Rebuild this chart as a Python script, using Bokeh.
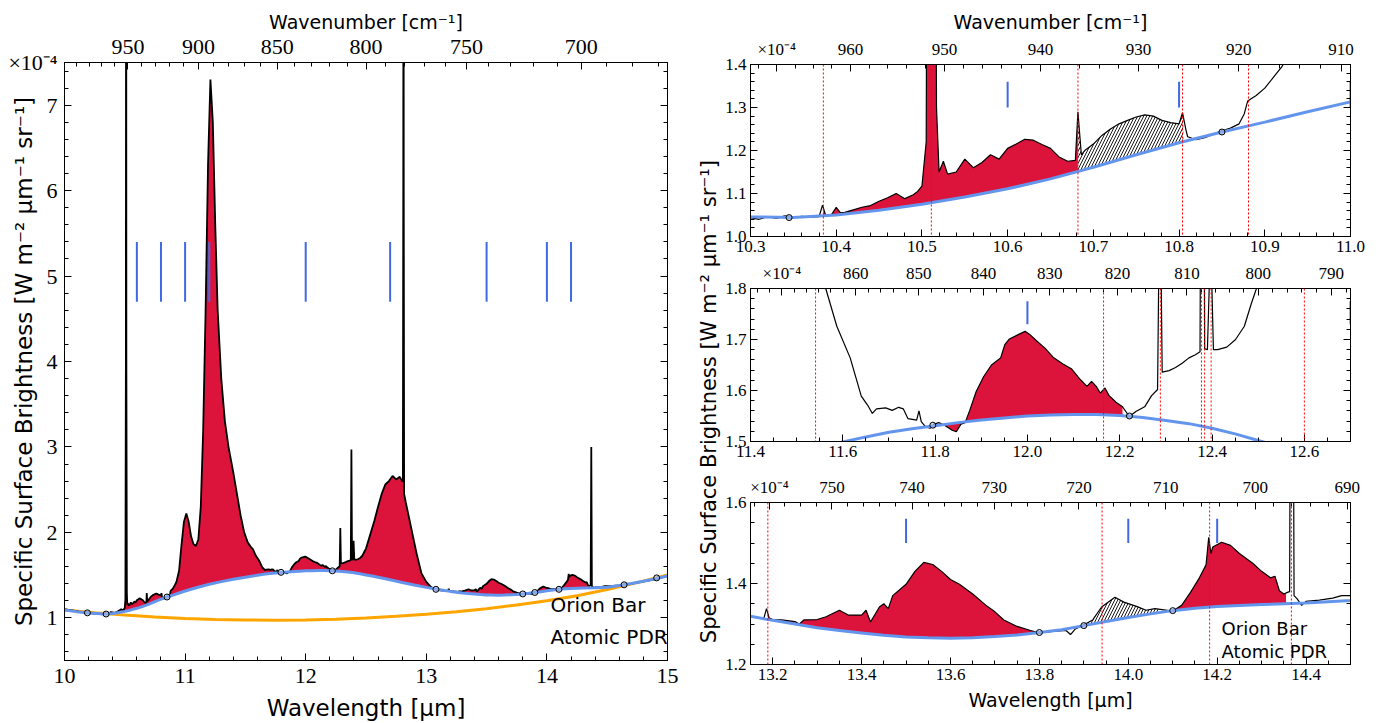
import numpy as np
from bokeh.plotting import figure
from bokeh.models import LinearAxis, FixedTicker, CustomJSTickFormatter, Span, Label, Range1d
from bokeh.layouts import row, column
from bokeh.embed import file_html
from bokeh.resources import INLINE

# ---------------- data (surface brightness in units of 1e-4 W m^-2 um^-1 sr^-1) ----------------
WAVE = [
    10.00, 10.03, 10.06, 10.09, 10.12, 10.15, 10.18, 10.21, 10.24, 10.27,
    10.30, 10.31, 10.32, 10.33, 10.34, 10.35, 10.36, 10.37, 10.38, 10.384,
    10.388, 10.395, 10.40, 10.405, 10.41, 10.42, 10.43, 10.44, 10.45, 10.46,
    10.47, 10.48, 10.49, 10.495, 10.50, 10.505, 10.509, 10.511, 10.513, 10.517,
    10.52, 10.525, 10.53, 10.54, 10.55, 10.56, 10.57, 10.58, 10.59, 10.60,
    10.61, 10.62, 10.63, 10.64, 10.65, 10.66, 10.67, 10.679, 10.682, 10.686,
    10.69, 10.70, 10.71, 10.72, 10.73, 10.74, 10.75, 10.76, 10.77, 10.78,
    10.79, 10.80, 10.804, 10.808, 10.81, 10.82, 10.83, 10.84, 10.85, 10.86,
    10.87, 10.876, 10.88, 10.89, 10.90, 10.91, 10.92, 10.93, 10.95, 10.97,
    10.99, 11.01, 11.03, 11.05, 11.07, 11.09, 11.11, 11.13, 11.15, 11.17,
    11.19, 11.21, 11.23, 11.25, 11.27, 11.30, 11.33, 11.36, 11.40, 11.43,
    11.46, 11.49, 11.52, 11.545, 11.563, 11.587, 11.616, 11.640, 11.654, 11.664,
    11.673, 11.693, 11.707, 11.721, 11.731, 11.741, 11.760, 11.765, 11.770, 11.779,
    11.789, 11.798, 11.808, 11.822, 11.837, 11.846, 11.856, 11.865, 11.875, 11.889,
    11.905, 11.922, 11.942, 11.951, 11.961, 11.981, 11.995, 12.005, 12.019, 12.038,
    12.057, 12.077, 12.096, 12.115, 12.129, 12.139, 12.149, 12.158, 12.168, 12.177,
    12.192, 12.206, 12.221, 12.235, 12.254, 12.269, 12.282, 12.287, 12.292, 12.307,
    12.321, 12.336, 12.350, 12.364, 12.374, 12.379, 12.384, 12.390, 12.397, 12.403,
    12.412, 12.432, 12.451, 12.470, 12.485, 12.50, 12.53, 12.57, 12.60, 12.63,
    12.66, 12.69, 12.72, 12.75, 12.78, 12.80, 12.806, 12.809, 12.811, 12.813,
    12.816, 12.83, 12.86, 12.89, 12.92, 12.96, 13.00, 13.04, 13.08, 13.12,
    13.15, 13.18, 13.186, 13.192, 13.20, 13.22, 13.25, 13.26, 13.27, 13.30,
    13.32, 13.35, 13.37, 13.40, 13.41, 13.42, 13.44, 13.45, 13.46, 13.47,
    13.50, 13.52, 13.54, 13.56, 13.58, 13.60, 13.62, 13.65, 13.68, 13.70,
    13.72, 13.75, 13.78, 13.80, 13.83, 13.86, 13.87, 13.88, 13.90, 13.92,
    13.94, 13.95, 13.97, 13.99, 14.02, 14.04, 14.06, 14.08, 14.10, 14.12,
    14.14, 14.16, 14.175, 14.181, 14.186, 14.19, 14.21, 14.23, 14.25, 14.28,
    14.30, 14.32, 14.33, 14.34, 14.35, 14.358, 14.363, 14.368, 14.373, 14.38,
    14.39, 14.40, 14.43, 14.46, 14.48, 14.50, 14.55, 14.60, 14.65, 14.70,
    14.75, 14.80, 14.85, 14.90, 14.95, 15.00,
]
FLUX = [
    1.100, 1.092, 1.086, 1.080, 1.072, 1.066, 1.062, 1.056, 1.052, 1.048,
    1.044, 1.040, 1.046, 1.042, 1.048, 1.044, 1.047, 1.045, 1.046, 1.073,
    1.047, 1.052, 1.068, 1.055, 1.056, 1.062, 1.068, 1.072, 1.082, 1.090,
    1.100, 1.088, 1.097, 1.105, 1.117, 1.220, 4.000, 12.00, 4.000, 1.300,
    1.150, 1.175, 1.145, 1.150, 1.180, 1.160, 1.172, 1.190, 1.180, 1.205,
    1.215, 1.226, 1.224, 1.214, 1.205, 1.185, 1.175, 1.177, 1.290, 1.190,
    1.200, 1.215, 1.235, 1.250, 1.262, 1.270, 1.278, 1.283, 1.280, 1.270,
    1.265, 1.262, 1.288, 1.248, 1.232, 1.225, 1.230, 1.238, 1.246, 1.252,
    1.262, 1.285, 1.315, 1.328, 1.345, 1.370, 1.395, 1.430, 1.550, 1.850,
    2.120, 2.220, 2.120, 1.950, 1.860, 1.840, 1.920, 2.300, 3.200, 4.600,
    6.300, 7.300, 6.800, 5.600, 4.600, 3.800, 3.300, 3.000, 2.700, 2.450,
    2.200, 2.000, 1.880, 1.830, 1.800, 1.726, 1.664, 1.589, 1.571, 1.555,
    1.564, 1.566, 1.561, 1.567, 1.564, 1.545, 1.542, 1.560, 1.539, 1.529,
    1.526, 1.534, 1.537, 1.531, 1.522, 1.519, 1.534, 1.537, 1.561, 1.598,
    1.627, 1.650, 1.664, 1.690, 1.701, 1.710, 1.716, 1.710, 1.698, 1.683,
    1.664, 1.652, 1.642, 1.621, 1.608, 1.618, 1.608, 1.595, 1.605, 1.590,
    1.577, 1.568, 1.549, 1.559, 1.568, 1.590, 1.602, 2.050, 1.636, 1.639,
    1.645, 1.654, 1.664, 1.670, 1.676, 2.970, 1.682, 1.680, 1.900, 1.680,
    1.680, 1.685, 1.700, 1.726, 1.770, 1.810, 1.950, 2.140, 2.300, 2.450,
    2.560, 2.600, 2.660, 2.620, 2.650, 2.600, 2.600, 6.000, 12.00, 6.000,
    2.450, 2.350, 2.150, 1.950, 1.750, 1.520, 1.420, 1.360, 1.330, 1.322,
    1.318, 1.314, 1.338, 1.315, 1.311, 1.310, 1.306, 1.300, 1.310, 1.311,
    1.318, 1.334, 1.322, 1.322, 1.334, 1.305, 1.342, 1.350, 1.338, 1.370,
    1.398, 1.430, 1.452, 1.447, 1.430, 1.410, 1.398, 1.374, 1.346, 1.330,
    1.310, 1.294, 1.284, 1.278, 1.282, 1.284, 1.274, 1.287, 1.298, 1.310,
    1.342, 1.350, 1.366, 1.354, 1.343, 1.334, 1.338, 1.335, 1.332, 1.346,
    1.378, 1.414, 1.446, 1.514, 1.474, 1.490, 1.502, 1.494, 1.474, 1.450,
    1.430, 1.414, 1.418, 1.382, 1.374, 1.378, 1.380, 3.000, 1.370, 1.362,
    1.346, 1.356, 1.359, 1.364, 1.370, 1.370, 1.372, 1.378, 1.390, 1.400,
    1.412, 1.425, 1.437, 1.452, 1.470, 1.490,
]

# spline continuum (blue)
BASE_WAVE = [
    10.0, 10.1, 10.2, 10.3, 10.35, 10.4, 10.45, 10.5, 10.55, 10.6,
    10.65, 10.7, 10.75, 10.8, 10.85, 10.9, 10.95, 11.0, 11.1, 11.2,
    11.3, 11.4, 11.5, 11.55, 11.6, 11.65, 11.7, 11.75, 11.8, 11.85,
    11.9, 11.95, 12.0, 12.05, 12.1, 12.15, 12.2, 12.25, 12.3, 12.35,
    12.4, 12.45, 12.5, 12.55, 12.6, 12.7, 12.8, 12.9, 13.0, 13.1,
    13.15, 13.2, 13.25, 13.3, 13.35, 13.4, 13.45, 13.5, 13.55, 13.6,
    13.65, 13.7, 13.75, 13.8, 13.85, 13.9, 13.95, 14.0, 14.05, 14.1,
    14.15, 14.2, 14.3, 14.4, 14.5, 14.6, 14.7, 14.8, 14.9, 15.0,
]
BASE_FLUX = [
    1.090, 1.072, 1.056, 1.046, 1.044, 1.050, 1.061, 1.075, 1.092, 1.111,
    1.134, 1.161, 1.190, 1.218, 1.243, 1.266, 1.290, 1.313, 1.355, 1.392,
    1.423, 1.450, 1.475, 1.487, 1.499, 1.509, 1.518, 1.525, 1.531, 1.537,
    1.542, 1.546, 1.550, 1.552, 1.553, 1.553, 1.551, 1.547, 1.541, 1.535,
    1.526, 1.515, 1.502, 1.489, 1.475, 1.445, 1.414, 1.384, 1.356, 1.332,
    1.319, 1.309, 1.300, 1.291, 1.284, 1.278, 1.272, 1.268, 1.266, 1.265,
    1.266, 1.269, 1.273, 1.279, 1.286, 1.296, 1.306, 1.316, 1.325, 1.333,
    1.339, 1.343, 1.348, 1.352, 1.358, 1.378, 1.402, 1.428, 1.458, 1.490,
]

# continuum anchor points (circles)
ANCHOR_WAVE = [10.19, 10.345, 10.85, 11.795, 12.221, 13.08, 13.80, 13.90, 14.10, 14.64, 14.91]
ANCHOR_FLUX = [1.058, 1.044, 1.243, 1.532, 1.550, 1.333, 1.279, 1.296, 1.333, 1.386, 1.467]

# second continuum (orange, overview only)
ORANGE_WAVE = [10.0, 10.25, 10.5, 10.75, 11.0, 11.25, 11.5, 11.75, 12.0, 12.25, 12.5,
               12.75, 13.0, 13.25, 13.5, 13.75, 14.0, 14.25, 14.5, 14.75, 15.0]
ORANGE_FLUX = [1.090, 1.060, 1.032, 1.010, 0.993, 0.981, 0.974, 0.972, 0.975, 0.984, 0.998,
               1.017, 1.041, 1.071, 1.107, 1.150, 1.200, 1.258, 1.330, 1.412, 1.500]

# band positions (blue markers)
BAND_WAVE = [10.6, 10.8, 11.0, 11.2, 12.0, 12.7, 13.5, 14.0, 14.2]

# line positions (red dotted)
LINES_TOP = [10.385, 10.511, 10.682, 10.804, 10.881]
LINES_MID = [11.541, 12.165, 12.288, 12.377, 12.384, 12.398, 12.600]
LINES_BOT = [13.189, 13.941, 14.183, 14.367]

# integration windows
RED_WINDOWS = [(10.385, 10.682), (11.822, 12.206), (13.189, 13.80), (14.11, 14.355)]
HATCH_WINDOWS = [(10.682, 10.805), (13.905, 14.07)]
OVERVIEW_WINDOW = (10.385, 14.355)

# wavenumber tick labels (cm^-1)
WN_LEFT = [950, 900, 850, 800, 750, 700]
WN_TOP = [960, 950, 940, 930, 920, 910]
WN_MID = [860, 850, 840, 830, 820, 810, 800, 790]
WN_BOT = [750, 740, 730, 720, 710, 700, 690]

assert len(WAVE) == len(FLUX)
assert len(BASE_WAVE) == len(BASE_FLUX)

SERIF = "Liberation Serif"
SANS = "DejaVu Sans"
RED = "#DC143C"
BLUE = "#6495ED"
TICKBLUE = "#4169E1"
EXP = "\u00d710\u207b\u2074"


def seg(lo, hi):
    w = np.array(WAVE)
    inside = w[(w > lo) & (w < hi)]
    x = np.concatenate([[lo], inside, [hi]])
    return x, np.interp(x, WAVE, FLUX), np.interp(x, BASE_WAVE, BASE_FLUX)


def style_axis(ax, tick_size, label_size, tick_standoff=4, label_standoff=6):
    ax.major_tick_in = 7
    ax.major_tick_out = 0
    ax.minor_tick_in = 4
    ax.minor_tick_out = 0
    ax.major_tick_line_color = "black"
    ax.minor_tick_line_color = "black"
    ax.axis_line_color = "black"
    ax.major_label_text_font = SERIF
    ax.major_label_text_font_size = tick_size
    ax.major_label_text_color = "black"
    ax.major_label_standoff = tick_standoff
    ax.axis_label_text_font = SANS
    ax.axis_label_text_font_size = label_size
    ax.axis_label_text_font_style = "normal"
    ax.axis_label_text_color = "black"
    ax.axis_label_standoff = label_standoff


def ticks(a, b, step):
    n = int(round((b - a) / step))
    return [round(a + i * step, 4) for i in range(n + 1)]


def panel(width, height, borders, xr, yr, xt, xminor, yt, yminor, xdec, ydec,
          wn_major, wn_minor, tick_size, sizes, standoffs,
          xlabel=None, ylabel=None, toplabel=None, exp_wn=None, exp_y=None):
    p = figure(width=width, height=height, x_range=Range1d(*xr), y_range=Range1d(*yr),
               output_backend="svg", toolbar_location=None,
               min_border_left=borders[0], min_border_right=borders[1],
               min_border_top=borders[2], min_border_bottom=borders[3])
    p.xgrid.visible = False
    p.ygrid.visible = False
    p.outline_line_color = "black"
    p.outline_line_width = 1
    p.background_fill_color = "white"
    p.border_fill_color = "white"
    xa = p.xaxis[0]
    xa.ticker = FixedTicker(ticks=xt, minor_ticks=xminor)
    xa.formatter = CustomJSTickFormatter(code="return tick.toFixed(%d);" % xdec)
    style_axis(xa, tick_size, sizes[0], *standoffs[0])
    if xlabel:
        xa.axis_label = xlabel
    ya = p.yaxis[0]
    if exp_y is not None:
        # multiplier text sits at the top end of the y axis
        ya.ticker = FixedTicker(ticks=yt + [exp_y], minor_ticks=yminor)
        ya.formatter = CustomJSTickFormatter(
            code="return tick > %f ? '%s' : tick.toFixed(%d);" % (exp_y - 0.01, EXP, ydec))
    else:
        ya.ticker = FixedTicker(ticks=yt, minor_ticks=yminor)
        ya.formatter = CustomJSTickFormatter(code="return tick.toFixed(%d);" % ydec)
    style_axis(ya, tick_size, sizes[1], *standoffs[1])
    if ylabel:
        ya.axis_label = ylabel
    major = [1e4 / w for w in wn_major]
    if exp_wn is not None:
        # multiplier text placed in the top label row, near the left corner
        major = major + [1e4 / exp_wn]
        code = ("const v = Math.round(10000/tick); return v == %d ? '%s' : v.toString();"
                % (exp_wn, EXP))
    else:
        code = "return Math.round(10000/tick).toString();"
    top = LinearAxis(ticker=FixedTicker(ticks=major, minor_ticks=[1e4 / w for w in wn_minor]),
                     formatter=CustomJSTickFormatter(code=code))
    style_axis(top, tick_size, sizes[2], *standoffs[2])
    if toplabel:
        top.axis_label = toplabel
    p.add_layout(top, "above")
    right = LinearAxis(ticker=FixedTicker(ticks=yt, minor_ticks=yminor),
                       formatter=CustomJSTickFormatter(code="return '';"))
    style_axis(right, tick_size, sizes[1])
    p.add_layout(right, "right")
    return p


def add_lines(p, lw_spec, lw_base, circle_size):
    p.line(WAVE, FLUX, line_color="black", line_width=lw_spec)
    p.line(BASE_WAVE, BASE_FLUX, line_color=BLUE, line_width=lw_base)
    p.scatter(ANCHOR_WAVE, ANCHOR_FLUX, marker="circle", size=circle_size,
              line_color="black", line_width=1, fill_color="#9fb8e8", fill_alpha=0.6)


YLABEL = "Specific Surface Brightness [W m\u207b\u00b2 \u03bcm\u207b\u00b9 sr\u207b\u00b9]"
XLABEL = "Wavelength [\u03bcm]"
WNLABEL = "Wavenumber [cm\u207b\u00b9]"

# ---------------- left overview ----------------
left = panel(695, 723, (64, 28, 62, 63), (10, 15), (0.5, 7.5),
             ticks(10, 15, 1), ticks(10, 15, 0.2), ticks(1, 7, 1), ticks(0.6, 7.4, 0.2), 0, 0,
             WN_LEFT, list(range(670, 1001, 10)), "22px", ("23px", "23px", "19px"),
             ((8, 9), (7, -32), (9, 4)),
             xlabel=XLABEL, ylabel=YLABEL, toplabel=WNLABEL, exp_y=7.5)
x, ys, yb = seg(*OVERVIEW_WINDOW)
left.varea(x=x, y1=yb, y2=ys, fill_color=RED)
left.line(ORANGE_WAVE, ORANGE_FLUX, line_color="orange", line_width=3)
add_lines(left, 1.8, 3, 6)
left.segment(x0=BAND_WAVE, y0=[4.7] * len(BAND_WAVE), x1=BAND_WAVE, y1=[5.4] * len(BAND_WAVE),
             line_color=TICKBLUE, line_width=2)
left.add_layout(Label(x=14.03, y=1.15, text="Orion Bar", text_baseline="middle",
                      text_font=SANS, text_font_size="20px", text_color="black"))
left.add_layout(Label(x=14.03, y=0.775, text="Atomic PDR", text_baseline="middle",
                      text_font=SANS, text_font_size="20px", text_color="black"))

# ---------------- shared label column ----------------
lab = figure(width=27, height=723, x_range=Range1d(0, 27), y_range=Range1d(0, 723),
             output_backend="svg", toolbar_location=None, x_axis_type=None, y_axis_type=None,
             min_border_left=0, min_border_right=0, min_border_top=0, min_border_bottom=0)
lab.outline_line_color = None
lab.xgrid.visible = False
lab.ygrid.visible = False
lab.add_layout(Label(x=13, y=723 - 410, angle=np.pi / 2, text=YLABEL, text_align="center",
                     text_baseline="middle", text_font=SANS, text_font_size="21px", text_color="black"))


def zoom_panel(height, borders, xr, yr, xt, xminor, yt, yminor, wn_major, lines, band_y,
               exp_wn, xlabel=None, toplabel=None):
    p = panel(673, height, borders, xr, yr, xt, xminor, yt, yminor, 1, 1,
              wn_major, list(range(680, 1000, 2)), "17px", ("19px", "19px", "19px"),
              ((4, 6), (4, 6), (6, 4)),
              xlabel=xlabel, toplabel=toplabel, exp_wn=exp_wn)
    for lo, hi in RED_WINDOWS:
        if hi > xr[0] and lo < xr[1]:
            x, ys, yb = seg(lo, hi)
            p.varea(x=x, y1=yb, y2=ys, fill_color=RED)
    for lo, hi in HATCH_WINDOWS:
        if hi > xr[0] and lo < xr[1]:
            x, ys, yb = seg(lo, hi)
            p.varea(x=x, y1=yb, y2=ys, fill_color="white", hatch_pattern="/",
                    hatch_color="black", hatch_weight=0.9, hatch_scale=6)
    add_lines(p, 1.2, 3, 6)
    p.segment(x0=BAND_WAVE, y0=[band_y[0]] * len(BAND_WAVE), x1=BAND_WAVE,
              y1=[band_y[1]] * len(BAND_WAVE), line_color=TICKBLUE, line_width=2)
    for lw in lines:
        p.add_layout(Span(location=lw, dimension="height", line_color="red",
                          line_dash="2 2", line_width=1))
    return p


top = zoom_panel(260, (27, 45, 64, 24), (10.3, 11.0), (1.0, 1.4),
                 ticks(10.3, 11.0, 0.1), ticks(10.3, 11.0, 0.02),
                 ticks(1.0, 1.4, 0.1), ticks(1.0, 1.4, 0.02), WN_TOP, LINES_TOP, (1.30, 1.36),
                 968, toplabel=WNLABEL)
mid = zoom_panel(214, (27, 45, 22, 33), (11.4, 12.7), (1.5, 1.8),
                 ticks(11.4, 12.6, 0.2), ticks(11.4, 12.7, 0.05),
                 ticks(1.5, 1.8, 0.1), ticks(1.5, 1.8, 0.02), WN_MID, LINES_MID, (1.73, 1.775),
                 872)
bot = zoom_panel(249, (27, 45, 21, 59), (13.15, 14.5), (1.2, 1.6),
                 ticks(13.2, 14.4, 0.2), ticks(13.15, 14.5, 0.05),
                 ticks(1.2, 1.6, 0.2), ticks(1.2, 1.6, 0.05), WN_BOT, LINES_BOT, (1.50, 1.56),
                 758, xlabel=XLABEL)
bot.add_layout(Label(x=14.21, y=1.29, text="Orion Bar", text_baseline="middle",
                     text_font=SANS, text_font_size="18px", text_color="black"))
bot.add_layout(Label(x=14.21, y=1.233, text="Atomic PDR", text_baseline="middle",
                     text_font=SANS, text_font_size="18px", text_color="black"))

layout = row(left, lab, column(top, mid, bot))
open("out.html", "w").write(file_html(layout, INLINE))
